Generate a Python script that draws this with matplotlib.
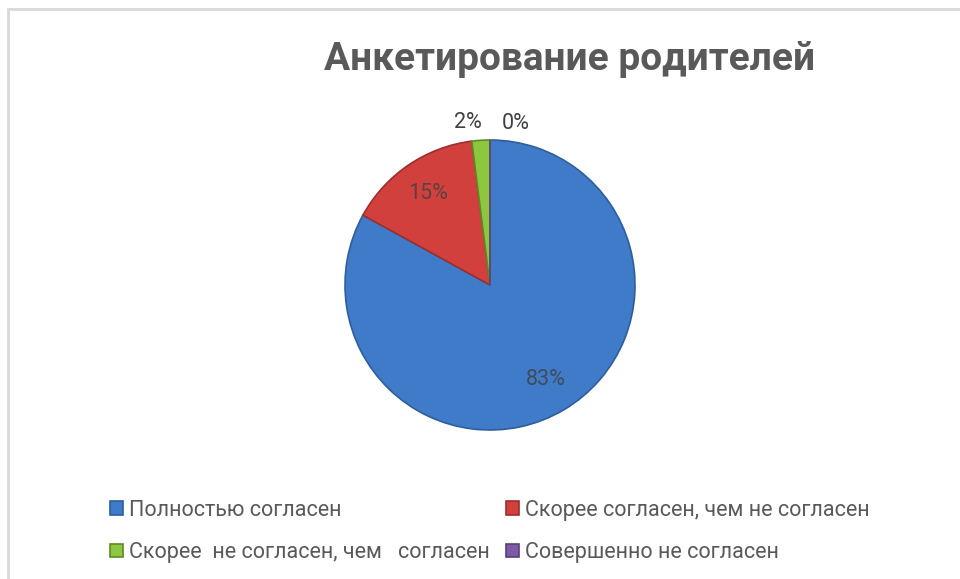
import numpy as np
import matplotlib.pyplot as plt
from matplotlib.patches import Rectangle

categories = ["Полностью согласен", "Скорее согласен, чем не согласен",
              "Скорее  не согласен, чем   согласен", "Совершенно не согласен"]
shares = [83, 15, 2, 0]
colors = ["#3F7BC8", "#D2403E", "#8DC63F", "#7D5BA6"]
edge_colors = ["#2E5E9C", "#9E2E2C", "#5E8A26", "#5A3F7E"]

plt.rcParams['font.family'] = ['Roboto', 'DejaVu Sans']

W, H = 960, 579
fig = plt.figure(figsize=(W / 100, H / 100), dpi=100)

# light frame around the chart area
fig.patches.append(Rectangle((8 / W, -0.05), 1.1, 1 - 9 / H + 0.05, transform=fig.transFigure,
                             fill=False, edgecolor="#D9D9D9", linewidth=2))

# pie axes: centre (490, 285) px from top-left, radius 145 px
cx, cy, r = 490, 285, 145
ax = fig.add_axes([(cx - r) / W, (H - cy - r) / H, 2 * r / W, 2 * r / H])
wedges, _ = ax.pie(shares, colors=colors, startangle=90, counterclock=False, radius=1,
                   wedgeprops=dict(linewidth=1.2))
for w, ec in zip(wedges, edge_colors):
    w.set_edgecolor(ec)
ax.set_xlim(-1, 1)
ax.set_ylim(-1, 1)
ax.set_aspect('equal')
ax.axis('off')

# percentage labels
for w, v in zip(wedges, shares):
    mid = np.deg2rad((w.theta1 + w.theta2) / 2)
    if v >= 5:
        d = 0.76
    else:
        d = 1.13
        if v == 0:
            mid -= np.deg2rad(9)
        else:
            mid += np.deg2rad(4)
    ax.text(d * np.cos(mid), d * np.sin(mid), f"{v}%", ha='center', va='center',
            fontsize=15.5, color="#404040", alpha=0.8 if v >= 5 else 1)

fig.text(570 / W, 1 - 60 / H, "Анкетирование родителей", ha='center', va='center',
         fontsize=28, fontweight='bold', color="#595959")

order = [0, 2, 1, 3]
leg = fig.legend([wedges[i] for i in order], [categories[i] for i in order],
                 ncol=2, loc='upper left', bbox_to_anchor=(101 / W, 1 - 491 / H),
                 frameon=False, fontsize=15.5, handlelength=0.6, handleheight=0.6,
                 handletextpad=0.3, columnspacing=0.75, labelspacing=1.0,
                 labelcolor="#595959", borderaxespad=0)

fig.savefig("out.png", dpi=100)
